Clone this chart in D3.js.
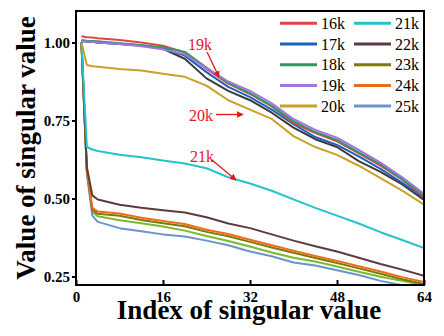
<!DOCTYPE html>
<html><head><meta charset="utf-8">
<script src="https://cdn.jsdelivr.net/npm/d3@7"></script>
<style>body{margin:0;background:#fff}svg{display:block}</style>
</head><body>
<script>
const idx = [1,2,3,4,8,12,16,20,24,28,32,36,40,44,48,52,56,60,64];
const s16 = [1.020,1.017,1.016,1.014,1.008,1.000,0.990,0.968,0.915,0.868,0.835,0.795,0.742,0.710,0.683,0.645,0.605,0.560,0.505];
const s17 = [1.005,1.003,1.002,1.000,0.996,0.990,0.982,0.958,0.905,0.858,0.825,0.785,0.738,0.697,0.672,0.635,0.595,0.550,0.502];
const s18 = [1.008,1.006,1.005,1.004,0.998,0.992,0.985,0.970,0.920,0.870,0.838,0.797,0.748,0.713,0.688,0.648,0.610,0.562,0.510];
const s19 = [1.005,1.003,1.002,1.000,0.995,0.988,0.978,0.962,0.918,0.875,0.845,0.805,0.755,0.720,0.695,0.656,0.615,0.568,0.515];
const s20 = [1.000,0.928,0.924,0.922,0.915,0.910,0.900,0.890,0.862,0.815,0.785,0.755,0.700,0.665,0.640,0.605,0.565,0.525,0.480];
const s21 = [1.000,0.665,0.657,0.652,0.640,0.632,0.622,0.612,0.597,0.568,0.548,0.525,0.497,0.470,0.445,0.420,0.392,0.367,0.341];
const s22 = [1.000,0.600,0.510,0.497,0.480,0.470,0.462,0.455,0.440,0.420,0.405,0.385,0.365,0.347,0.330,0.310,0.290,0.272,0.252];
const s23 = [1.000,0.588,0.463,0.451,0.445,0.431,0.421,0.411,0.393,0.379,0.361,0.343,0.326,0.309,0.293,0.276,0.259,0.241,0.226];
const s24 = [1.000,0.590,0.470,0.458,0.452,0.438,0.428,0.418,0.400,0.386,0.368,0.350,0.333,0.316,0.300,0.283,0.266,0.248,0.232];
const s25 = [1.000,0.580,0.445,0.425,0.405,0.395,0.385,0.378,0.365,0.350,0.330,0.315,0.295,0.285,0.270,0.255,0.236,0.222,0.205];
const sExtraDark = [1.005,1.003,1.002,1.000,0.995,0.990,0.980,0.948,0.885,0.845,0.815,0.775,0.727,0.690,0.665,0.620,0.585,0.545,0.495];
const sExtraGreen = [1.000,0.585,0.457,0.443,0.430,0.421,0.410,0.397,0.380,0.364,0.346,0.327,0.310,0.298,0.282,0.265,0.249,0.236,0.222];

const legendLabels = ["16k","17k","18k","19k","20k","21k","22k","23k","24k","25k"];
const legendColors = ["#e04444","#1f5fc0","#2e9960","#a574e0","#c9a02a","#22c4cc","#5e3b3b","#7b7b00","#f06a1e","#6a95cc"];
const xTicks = [0,16,32,48,64];
const yTicks = [0.25,0.50,0.75,1.00];
const yTickLabels = ["0.25","0.50","0.75","1.00"];
const annotations = ["19k","20k","21k"];

const series = [
  {v:sExtraGreen, c:"#7cb82f"},
  {v:s25, c:legendColors[9]},
  {v:s23, c:legendColors[7]},
  {v:s24, c:legendColors[8]},
  {v:s22, c:legendColors[6]},
  {v:s21, c:legendColors[5]},
  {v:s20, c:legendColors[4]},
  {v:sExtraDark, c:"#3a3a3a"},
  {v:s17, c:legendColors[1]},
  {v:s16, c:legendColors[0]},
  {v:s18, c:legendColors[2]},
  {v:s19, c:legendColors[3]}
];

const W=444,H=336;
const L=76,R=424,T=11,B=285;
const x = d3.scaleLinear().domain([0,64]).range([L,R]);
const y = d3.scaleLinear().domain([0.25,1.0]).range([276.5,42.5]);

const svg = d3.select("body").append("svg").attr("width",W).attr("height",H);
const defs = svg.append("defs");
defs.append("clipPath").attr("id","clip")
  .append("rect").attr("x",L).attr("y",T).attr("width",R-L).attr("height",B-T);

const line = d3.line().x((d,i)=>x(idx[i])).y(d=>y(d));
const g = svg.append("g").attr("clip-path","url(#clip)");
series.forEach(s=>{
  g.append("path").datum(s.v).attr("d",line).attr("fill","none")
   .attr("stroke",s.c).attr("stroke-width",2).attr("stroke-linejoin","round");
});

const FONT = '"Liberation Serif"';
// axes
const yAxis = d3.axisLeft(y).tickValues(yTicks).tickFormat((d,i)=>yTickLabels[i]).tickSize(4).tickPadding(2);
const ya = svg.append("g").attr("transform",`translate(${L},0)`).call(yAxis);
ya.select(".domain").remove();
ya.selectAll("line").attr("stroke","#000").attr("stroke-width",2);
ya.selectAll("text").style("font-family",FONT).style("font-weight","bold").style("font-size","15px").attr("fill","#000");

const xAxis = d3.axisBottom(x).tickValues(xTicks).tickFormat(d3.format("d")).tickSize(-5).tickPadding(6);
const xa = svg.append("g").attr("transform",`translate(0,${B})`).call(xAxis);
xa.select(".domain").remove();
xa.selectAll("line").attr("stroke","#000").attr("stroke-width",2);
xa.selectAll("text").style("font-family",FONT).style("font-weight","bold").style("font-size","15px").attr("fill","#000");

svg.append("rect").attr("x",L).attr("y",T).attr("width",R-L).attr("height",B-T)
  .attr("fill","none").attr("stroke","#000").attr("stroke-width",2);

// titles
svg.append("text").attr("x",249).attr("y",319).attr("text-anchor","middle")
  .style("font-family",FONT).style("font-weight","bold").style("font-size","27px").text("Index of singular value");
svg.append("text").attr("transform","translate(35,148) rotate(-90)").attr("text-anchor","middle")
  .style("font-family",FONT).style("font-weight","bold").style("font-size","27px").text("Value of singular value");

// legend
const leg = svg.append("g");
legendLabels.forEach((lab,i)=>{
  const col = Math.floor(i/5), row = i%5;
  const lx = col===0 ? 280 : 354;
  const ly = 23.3 + row*20.7;
  leg.append("line").attr("x1",lx).attr("x2",lx+37).attr("y1",ly).attr("y2",ly)
    .attr("stroke",legendColors[i]).attr("stroke-width",3);
  leg.append("text").attr("x",lx+41).attr("y",ly+5.5).style("font-family",FONT)
    .style("font-size","16px").attr("fill","#000").text(lab);
});

// annotations
const red = "#e8141c";
defs.append("marker").attr("id","arr").attr("viewBox","0 0 10 10")
  .attr("refX",9).attr("refY",5).attr("markerWidth",5).attr("markerHeight",5).attr("orient","auto")
  .append("path").attr("d","M0,0L10,5L0,10z").attr("fill",red);
const annPos = [
  {tx:188,ty:50,x1:207,y1:52,x2:219,y2:77},
  {tx:189,ty:121,x1:216,y1:114.5,x2:243,y2:114.5},
  {tx:190,ty:162,x1:212,y1:160,x2:236,y2:180}
];
annotations.forEach((a,i)=>{
  const p = annPos[i];
  svg.append("text").attr("x",p.tx).attr("y",p.ty).style("font-family",FONT)
    .style("font-size","16px").attr("fill",red).text(a);
  svg.append("line").attr("x1",p.x1).attr("y1",p.y1).attr("x2",p.x2).attr("y2",p.y2)
    .attr("stroke",red).attr("stroke-width",1.3).attr("marker-end","url(#arr)");
});
</script>
</body></html>
